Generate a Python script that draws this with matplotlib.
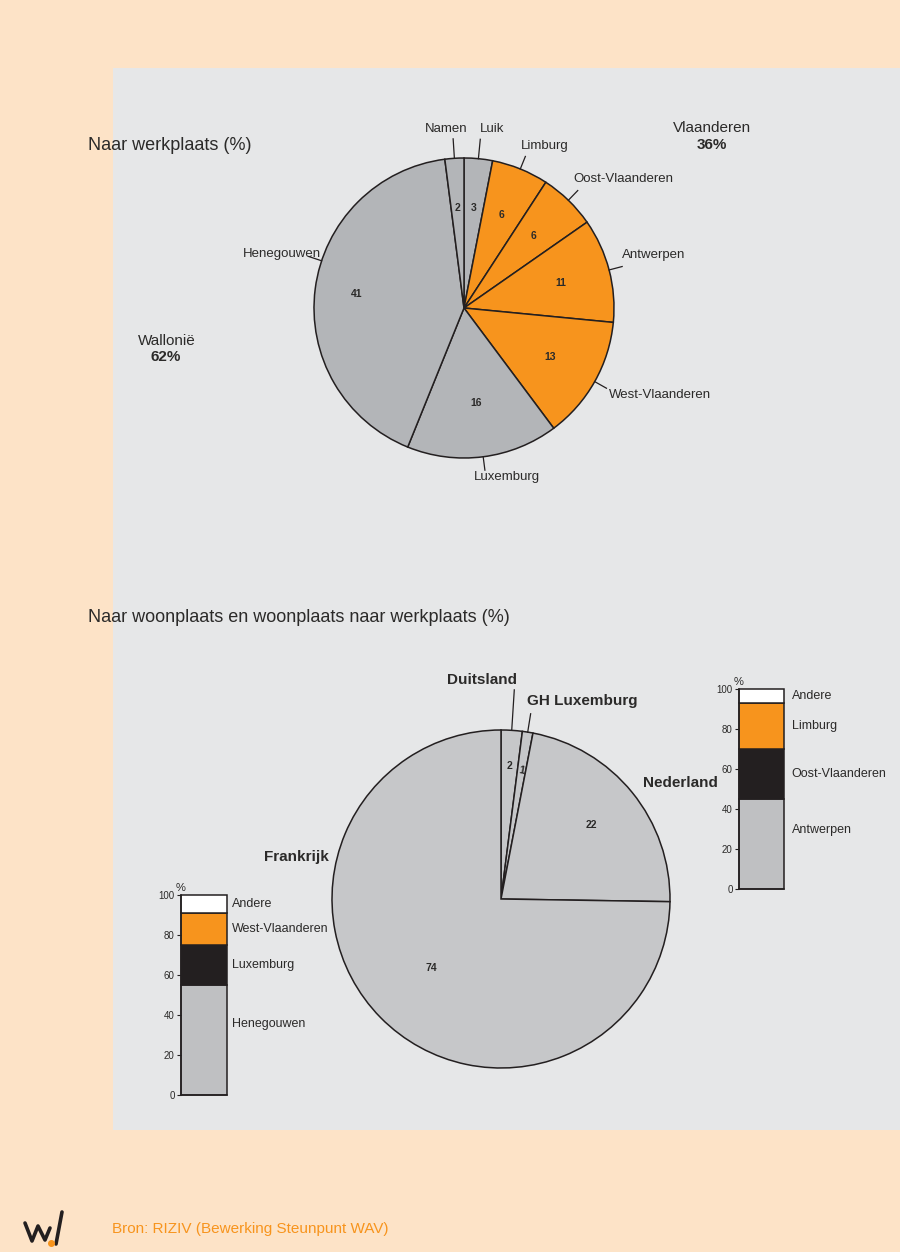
import matplotlib
matplotlib.use('Agg')
import matplotlib.pyplot as plt
from matplotlib.patches import Rectangle
import numpy as np

plt.rcParams['font.family'] = ['Liberation Sans', 'DejaVu Sans']

# ---------------- data ----------------
work_regions = ['Luik', 'Limburg', 'Oost-Vlaanderen', 'Antwerpen',
                'West-Vlaanderen', 'Luxemburg', 'Henegouwen', 'Namen']
work_values = [3, 6, 6, 11, 13, 16, 41, 2]
work_is_flemish = [False, True, True, True, True, False, False, False]
vlaanderen_pct = 36
wallonie_pct = 62

home_countries = ['Duitsland', 'GH Luxemburg', 'Nederland', 'Frankrijk']
home_values = [2, 1, 22, 74]

fr_categories = ['Henegouwen', 'Luxemburg', 'West-Vlaanderen', 'Andere']
fr_values = [55, 20, 16, 9]
nl_categories = ['Antwerpen', 'Oost-Vlaanderen', 'Limburg', 'Andere']
nl_values = [45, 25, 23, 7]
bar_ticks = [0, 20, 40, 60, 80, 100]

# ---------------- style / layout ----------------
PEACH = '#FDE3C7'
PANEL = '#E6E7E8'
GRAY_TOP = '#B3B5B8'
GRAY_BOT = '#C6C7C9'
GRAY_BAR = '#BFC0C2'
ORANGE = '#F7941D'
DARK = '#231F20'
TXT = '#2B2A29'

W, H = 900, 1252
fig = plt.figure(figsize=(W / 100, H / 100), dpi=100, facecolor=PEACH)
bg = fig.add_axes([0, 0, 1, 1])
bg.set_xlim(0, W)
bg.set_ylim(H, 0)
bg.axis('off')
bg.add_patch(Rectangle((113, 68), W - 113, 1130 - 68, facecolor=PANEL, edgecolor='none'))


def px_axes(x0, y0, x1, y1):
    return fig.add_axes([x0 / W, 1 - y1 / H, (x1 - x0) / W, (y1 - y0) / H])


def pie_axes(cx, cy, R, L=1.05):
    ax = px_axes(cx - L * R, cy - L * R, cx + L * R, cy + L * R)
    return ax


# ---------------- top pie ----------------
cx1, cy1, R1 = 464, 308, 150
ax1 = pie_axes(cx1, cy1, R1)
top_colors = [ORANGE if f else GRAY_TOP for f in work_is_flemish]
wedges1, _ = ax1.pie(work_values, startangle=90, counterclock=False, colors=top_colors,
                     wedgeprops=dict(edgecolor=DARK, linewidth=1.1))
ax1.set_xlim(-1.05, 1.05)
ax1.set_ylim(-1.05, 1.05)
ax1.axis('off')

top_inner_r = [0.67, 0.67, 0.67, 0.67, 0.66, 0.64, 0.72, 0.67]
top_leader_end = [1.13, 1.09, 1.09, 1.09, 1.09, 1.09, 1.09, 1.13]
top_leader_shift = [0, 0, 0, 0, 0, 0, -11, 0]
top_label_xy = [(492, 129), (545, 146), (623, 179), (654, 255),
                (660, 395), (507, 477), (282, 254), (446, 129)]

for w, v, r, le, sh, name, (tx, ty) in zip(wedges1, work_values, top_inner_r, top_leader_end,
                                           top_leader_shift, work_regions, top_label_xy):
    mid = np.deg2rad((w.theta1 + w.theta2) / 2)
    ax1.text(r * np.cos(mid), r * np.sin(mid), str(v), ha='center', va='center',
             fontsize=7.5, fontweight='bold', color=TXT)
    a = mid + np.deg2rad(sh)
    ax1.plot([np.cos(a), le * np.cos(a)], [np.sin(a), le * np.sin(a)],
             color=DARK, lw=0.9, clip_on=False)
    bg.text(tx, ty, name, ha='center', va='center', fontsize=9.5, color=TXT)

bg.text(88, 145, 'Naar werkplaats (%)', ha='left', va='center', fontsize=13, color=TXT)
bg.text(712, 128, 'Vlaanderen', ha='center', va='center', fontsize=11, color=TXT)
bg.text(712, 145, f'{vlaanderen_pct}%', ha='center', va='center', fontsize=11,
        fontweight='bold', color=TXT)
bg.text(167, 341, 'Wallonië', ha='center', va='center', fontsize=11, color=TXT)
bg.text(166, 357, f'{wallonie_pct}%', ha='center', va='center', fontsize=11,
        fontweight='bold', color=TXT)

# ---------------- bottom pie ----------------
bg.text(88, 617, 'Naar woonplaats en woonplaats naar werkplaats (%)', ha='left',
        va='center', fontsize=13, color=TXT)

cx2, cy2, R2 = 501, 899, 169
ax2 = pie_axes(cx2, cy2, R2)
wedges2, _ = ax2.pie(home_values, startangle=90, counterclock=False,
                     colors=[GRAY_BOT] * len(home_values),
                     wedgeprops=dict(edgecolor=DARK, linewidth=1.1))
ax2.set_xlim(-1.05, 1.05)
ax2.set_ylim(-1.05, 1.05)
ax2.axis('off')

bot_inner_r = [0.79, 0.77, 0.69, 0.58]
bot_inner_rot = [0, -10, 0, 0]
bot_leader_end = [1.24, 1.11, None, None]
bot_label_xy = [(482, 680), (582, 701), (680, 783), (296, 857)]

for w, v, r, rot, le, name, (tx, ty) in zip(wedges2, home_values, bot_inner_r, bot_inner_rot,
                                            bot_leader_end, home_countries, bot_label_xy):
    mid = np.deg2rad((w.theta1 + w.theta2) / 2)
    ax2.text(r * np.cos(mid), r * np.sin(mid), str(v), ha='center', va='center',
             fontsize=7.5, fontweight='bold', color=TXT, rotation=rot)
    if le is not None:
        ax2.plot([np.cos(mid), le * np.cos(mid)], [np.sin(mid), le * np.sin(mid)],
                 color=DARK, lw=0.9, clip_on=False)
    bg.text(tx, ty, name, ha='center', va='center', fontsize=11, fontweight='bold', color=TXT)

# ---------------- stacked bars ----------------
bar_colors = [GRAY_BAR, DARK, ORANGE, 'white']
bar_label_frac = [0.65, 0.5, 0.5, 0.5]


def stacked_bar(box, cats, vals, label_offset):
    ax = px_axes(*box)
    bottom = 0
    for c, v, col, fr in zip(cats, vals, bar_colors, bar_label_frac):
        ax.bar(0.5, v, width=1.0, bottom=bottom, color=col, edgecolor=DARK,
               linewidth=1.1, clip_on=False)
        ax.annotate(c, xy=(1, bottom + fr * v), xycoords=ax.get_yaxis_transform(),
                    xytext=(label_offset, 0), textcoords='offset points',
                    ha='left', va='center', fontsize=9, color=TXT)
        bottom += v
    ax.set_xlim(0, 1)
    ax.set_ylim(0, 100)
    ax.patch.set_alpha(0)
    for s in ['top', 'right']:
        ax.spines[s].set_visible(False)
    for s in ['left', 'bottom']:
        ax.spines[s].set_color(DARK)
        ax.spines[s].set_linewidth(1.1)
    ax.set_xticks([])
    ax.set_yticks(bar_ticks)
    ax.tick_params(axis='y', direction='out', length=3, width=0.8, labelsize=7,
                   pad=1.5, colors=DARK, labelcolor=TXT)
    ax.text(0, 1.012, '%', transform=ax.transAxes, ha='center', va='bottom',
            fontsize=8, color=TXT)
    return ax


stacked_bar((181, 895, 227, 1095), fr_categories, fr_values, 3.8)
stacked_bar((739, 689, 784, 889), nl_categories, nl_values, 5.5)

# ---------------- footer ----------------
bg.plot([25, 32, 38, 45, 50], [1223, 1241, 1226, 1240, 1228], color=DARK, lw=2.6,
        solid_capstyle='round', solid_joinstyle='round')
bg.plot([56, 62], [1244, 1212], color=DARK, lw=2.6, solid_capstyle='round')
bg.plot([51], [1243], marker='o', color=ORANGE, markersize=4)
bg.text(112, 1229, 'Bron: RIZIV (Bewerking Steunpunt WAV)', ha='left', va='center',
        fontsize=11, color=ORANGE)

fig.savefig('out.png', dpi=100, facecolor=PEACH)
